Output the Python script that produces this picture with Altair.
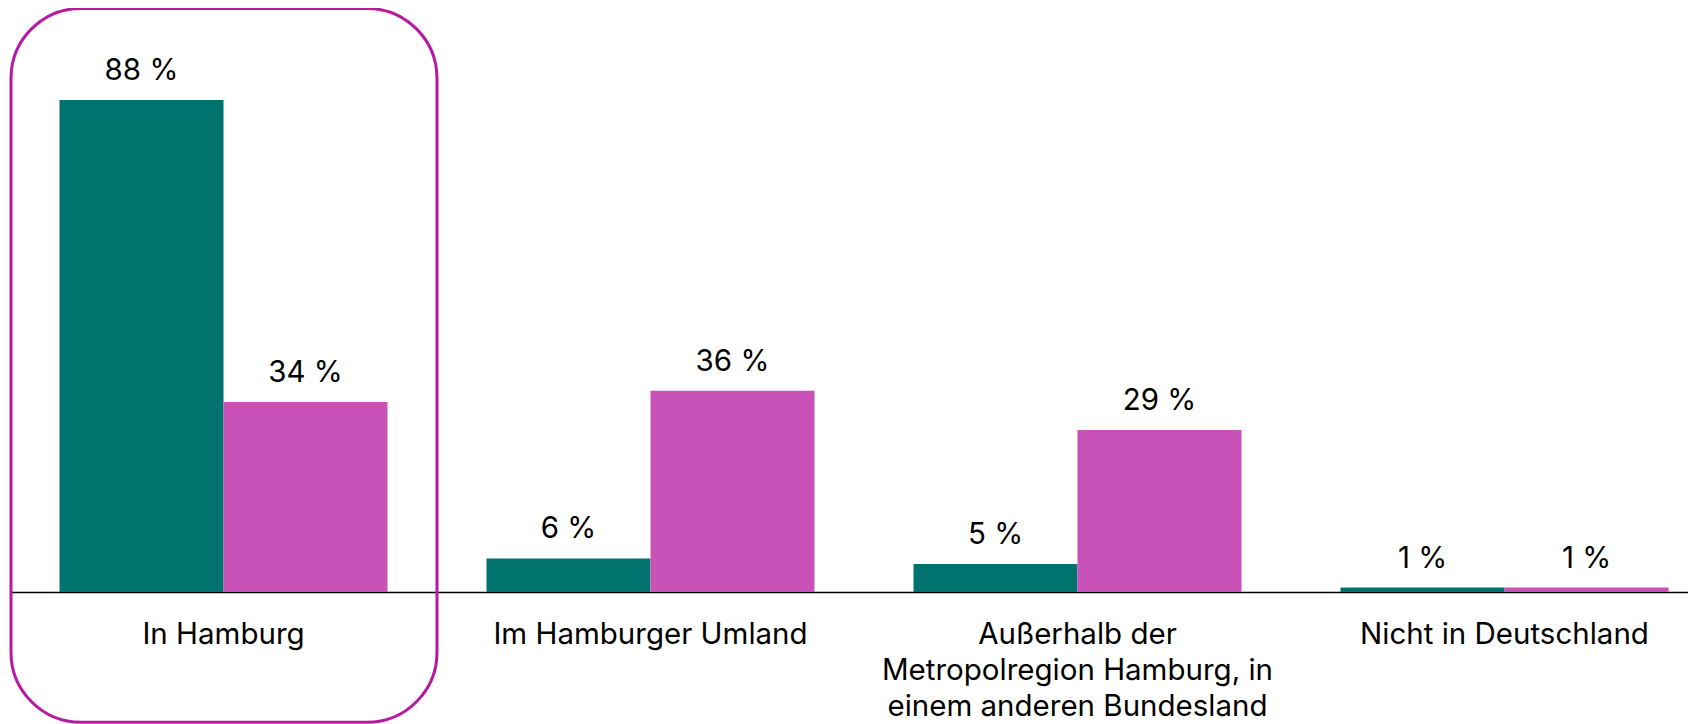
import altair as alt
import pandas as pd

# ---- data ----
categories = [
    "In Hamburg",
    "Im Hamburger Umland",
    "Außerhalb der\nMetropolregion Hamburg, in\neinem anderen Bundesland",
    "Nicht in Deutschland",
]
series = ["Gruppe A", "Gruppe B"]
values_a = [88, 6, 5, 0.8]
values_b = [34, 36, 29, 0.8]
highlight = "In Hamburg"

colors = ["#00736F", "#C952B9"]
box_color = "#B71AA0"

rows = []
for c, a, b in zip(categories, values_a, values_b):
    rows.append({"cat": c, "serie": series[0], "v": a})
    rows.append({"cat": c, "serie": series[1], "v": b})
df = pd.DataFrame(rows)

font = "Inter"

x_enc = alt.X(
    "cat:N",
    sort=categories,
    title=None,
    scale=alt.Scale(domain=categories, range=[0, 1706],
                    paddingInner=0.23185, paddingOuter=0.11358),
    axis=alt.Axis(
        labelExpr="split(datum.label, '\\n')",
        labelAngle=0,
        labelFont=font,
        labelFontSize=29.5,
        labelColor="#000000",
        labelLineHeight=36.3,
        labelBaseline="alphabetic",
        labelPadding=51,
        labelLimit=800,
        ticks=False,
        domain=True,
        domainColor="#000000",
        domainWidth=1.5,
        grid=False,
    ),
)
y_scale = alt.Scale(domain=[0, 100], nice=False, zero=True)
y_enc = alt.Y("v:Q", scale=y_scale, axis=None)
xoff = alt.XOffset("serie:N", sort=series,
                   scale=alt.Scale(domain=series, paddingInner=0, paddingOuter=0))

base = alt.Chart(df)

bars = base.mark_bar().encode(
    x=x_enc,
    xOffset=xoff,
    y=y_enc,
    color=alt.Color("serie:N", sort=series,
                    scale=alt.Scale(domain=series, range=colors), legend=None),
)

labels = base.transform_calculate(
    lbl="format(datum.v, '.0f') + ' %'"
).mark_text(
    font=font, fontSize=29.5, color="#000000", baseline="alphabetic",
    align="center", dy=-20,
).encode(
    x=x_enc,
    xOffset=xoff,
    y=y_enc,
    text="lbl:N",
)

box = alt.Chart(pd.DataFrame({"cat": [highlight]})).mark_rect(
    filled=False, stroke=box_color, strokeWidth=3, cornerRadius=70,
    xOffset=-48.5, x2Offset=49.5,
).encode(
    x=alt.X("cat:N", bandPosition=0),
    x2=alt.X2("cat", bandPosition=1),
    y=alt.datum(104.4),
    y2=alt.datum(-23.3),
)

chart = alt.layer(bars, labels, box).properties(
    width=1677,
    height=559,
    autosize=alt.AutoSizeParams(type="none"),
    padding={"left": 3, "top": 25, "right": 0, "bottom": 132},
).configure_view(stroke=None)

chart.save("out.html", embed_options={"renderer": "svg", "actions": False})
